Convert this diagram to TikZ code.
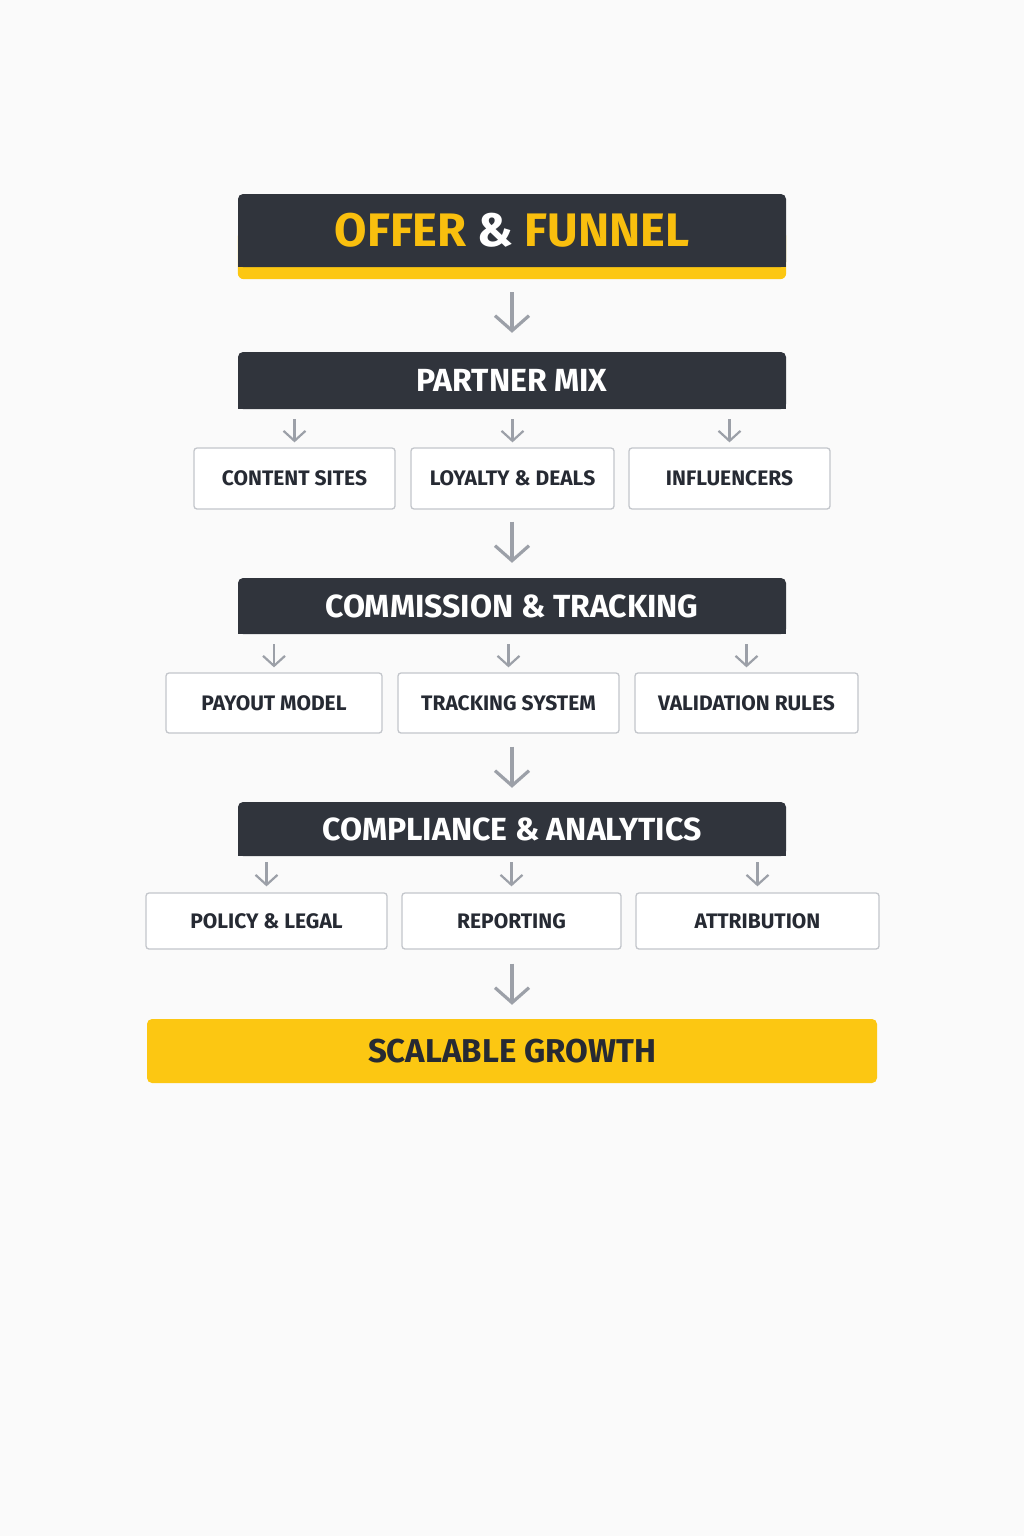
\documentclass[tikz,border=0pt]{standalone}
\usepackage{fontspec}
\setmainfont{Fira Sans}
\usetikzlibrary{arrows.meta,backgrounds}
\definecolor{barDark}{HTML}{30343C}
\definecolor{goldFill}{HTML}{FCC712}
\definecolor{goldText}{HTML}{F9BF0E}
\definecolor{itemLine}{HTML}{C3C6CB}
\definecolor{itemText}{HTML}{262A33}
\definecolor{arrowGray}{HTML}{9CA0A8}
\definecolor{pageBg}{HTML}{FAFAFA}

\begin{document}
\begin{tikzpicture}[x=1pt,y=-1pt]
\tikzstyle{bar}=[fill=barDark, rounded corners=5pt, minimum width=548pt, inner sep=0pt,
  text=white, font=\bfseries\fontsize{32}{32}\selectfont]
\tikzstyle{item}=[draw=itemLine, line width=1.3pt, fill=white, rounded corners=3pt, inner sep=0pt,
  text=itemText, font=\bfseries\fontsize{21}{21}\selectfont]
\tikzstyle{flow}=[draw=arrowGray, line width=3.2pt, -{Straight Barb[length=15pt, width=34pt]}]
\tikzstyle{twig}=[draw=arrowGray, line width=2.2pt, -{Straight Barb[length=10pt, width=22pt]}]

\useasboundingbox (0,0) rectangle (1024,1536);

% headers
\node[bar, minimum height=73pt, font=\bfseries\fontsize{47}{47}\selectfont] (offer) at (512,230.5)
  {\textcolor{goldText}{OFFER} \& \textcolor{goldText}{FUNNEL}};
\node[bar, minimum height=57pt] (mix) at (512,380.5) {PARTNER MIX};
\node[bar, minimum height=56pt] (comm) at (512,606) {COMMISSION \& TRACKING};
\node[bar, minimum height=54pt] (comp) at (512,829) {COMPLIANCE \& ANALYTICS};

% partner row
\node[item, minimum width=201pt, minimum height=61pt] (sites) at (294.5,478.5) {CONTENT SITES};
\node[item, minimum width=203pt, minimum height=61pt] (deals) at (512.5,478.5) {LOYALTY \& DEALS};
\node[item, minimum width=201pt, minimum height=61pt] (infl) at (729.5,478.5) {INFLUENCERS};

% commission row
\node[item, minimum width=216pt, minimum height=60pt] (payout) at (274,703) {PAYOUT MODEL};
\node[item, minimum width=221pt, minimum height=60pt] (track) at (508.5,703) {TRACKING SYSTEM};
\node[item, minimum width=223pt, minimum height=60pt] (valid) at (746.5,703) {VALIDATION RULES};

% compliance row
\node[item, minimum width=241pt, minimum height=56pt] (legal) at (266.5,921) {POLICY \& LEGAL};
\node[item, minimum width=219pt, minimum height=56pt] (report) at (511.5,921) {REPORTING};
\node[item, minimum width=243pt, minimum height=56pt] (attr) at (757.5,921) {ATTRIBUTION};

% result
\node[fill=goldFill, rounded corners=5pt, minimum width=730pt, minimum height=64pt,
  text=itemText, font=\bfseries\fontsize{33}{33}\selectfont]
  (growth) at (512,1051) {SCALABLE GROWTH};

\begin{scope}[on background layer]
  \fill[pageBg] (0,0) rectangle (1024,1536);
  \fill[goldFill, rounded corners=6pt] (offer.west) rectangle ([yshift=-12pt]offer.south east);
  \fill[barDark] (offer.west) rectangle (offer.south east);
  \foreach \b in {mix,comm,comp}
    \fill[barDark] (\b.west) rectangle (\b.south east);
\end{scope}

% main flow
\draw[flow, shorten <=25pt, shorten >=19pt] (offer.south) -- (mix.north);
\draw[flow, shorten <=12pt, shorten >=15pt] (deals.south -| comm.north) -- (comm.north);
\draw[flow, shorten <=13pt, shorten >=14pt] (track.south -| comp.north) -- (comp.north);
\draw[flow, shorten <=14pt, shorten >=14pt] (report.south -| growth.north) -- (growth.north);

% branches
\foreach \b in {sites,deals,infl}
  \draw[twig, shorten <=10pt, shorten >=5pt] (mix.south -| \b.north) -- (\b.north);
\foreach \b in {payout,track,valid}
  \draw[twig, shorten <=10pt, shorten >=5pt] (comm.south -| \b.north) -- (\b.north);
\foreach \b in {legal,report,attr}
  \draw[twig, shorten <=6pt, shorten >=6pt] (comp.south -| \b.north) -- (\b.north);
\end{tikzpicture}
\end{document}
